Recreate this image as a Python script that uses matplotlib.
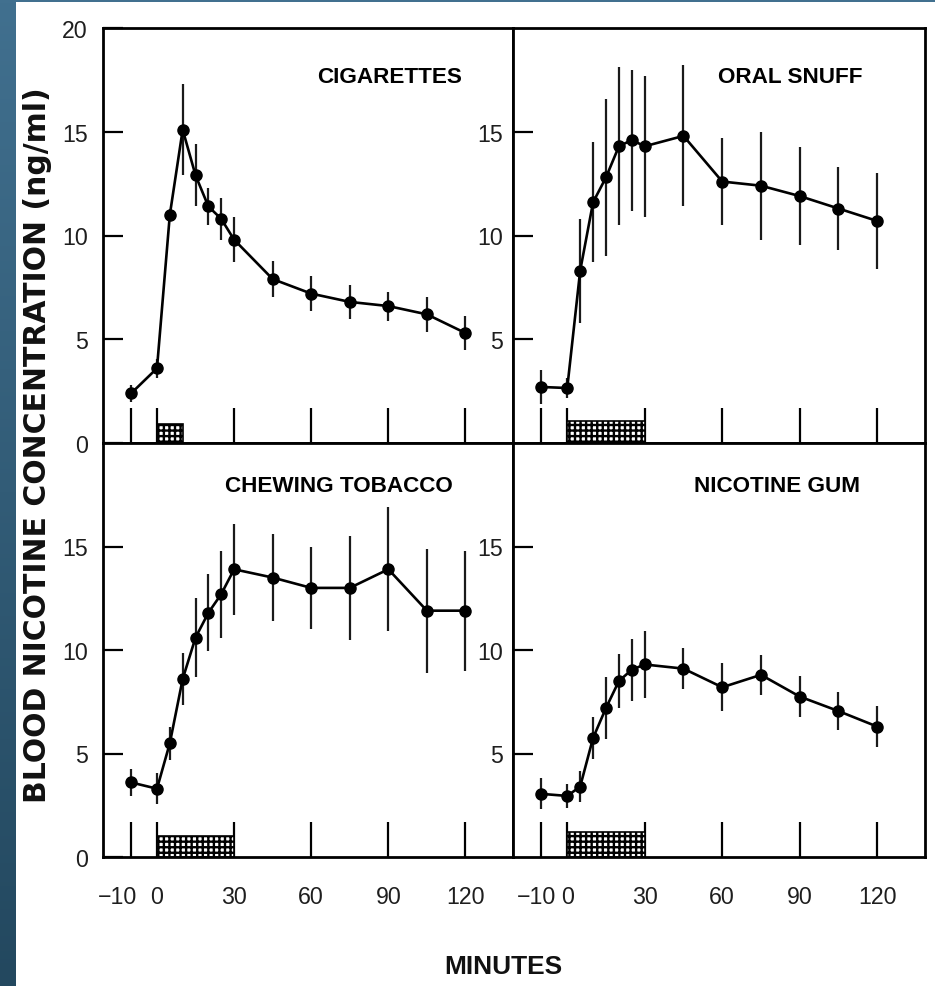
import matplotlib
matplotlib.use('Agg')
import matplotlib.pyplot as plt
from matplotlib import font_manager
import matplotlib.transforms as mtransforms
from matplotlib.colors import LinearSegmentedColormap
from matplotlib.patches import Rectangle
import numpy as np

# ---------------- data ----------------
times = [-10, 0, 5, 10, 15, 20, 25, 30, 45, 60, 75, 90, 105, 120]

cig_mean = [2.4, 3.6, 11.0, 15.1, 12.9, 11.4, 10.8, 9.8, 7.9, 7.2, 6.8, 6.6, 6.2, 5.3]
cig_err = [0.4, 0.45, 0.3, 2.2, 1.5, 0.9, 1.0, 1.1, 0.85, 0.85, 0.8, 0.7, 0.85, 0.8]

snuff_mean = [2.7, 2.65, 8.3, 11.6, 12.8, 14.3, 14.6, 14.3, 14.8, 12.6, 12.4, 11.9, 11.3, 10.7]
snuff_err = [0.8, 0.5, 2.5, 2.9, 3.8, 3.8, 3.4, 3.4, 3.4, 2.1, 2.6, 2.35, 2.0, 2.3]

chew_mean = [3.6, 3.3, 5.5, 8.6, 10.6, 11.8, 12.7, 13.9, 13.5, 13.0, 13.0, 13.9, 11.9, 11.9]
chew_err = [0.65, 0.75, 0.8, 1.25, 1.9, 1.85, 2.1, 2.2, 2.1, 2.0, 2.5, 3.0, 3.0, 2.9]

gum_mean = [3.05, 2.95, 3.4, 5.75, 7.2, 8.5, 9.05, 9.3, 9.1, 8.2, 8.8, 7.75, 7.05, 6.3]
gum_err = [0.75, 0.6, 0.75, 1.0, 1.5, 1.3, 1.5, 1.6, 1.0, 1.15, 0.95, 1.0, 0.9, 1.0]

titles = ["CIGARETTES", "ORAL SNUFF", "CHEWING TOBACCO", "NICOTINE GUM"]
exposure_end = [10, 30, 30, 30]
exposure_height = [0.9, 1.05, 1.0, 1.2]

x_ticks = [-10, 0, 30, 60, 90, 120]
x_tick_labels = ["\u221210", "0", "30", "60", "90", "120"]

ylabel = "BLOOD NICOTINE CONCENTRATION (ng/ml)"
xlabel = "MINUTES"

# ---------------- fonts ----------------
names = {f.name for f in font_manager.fontManager.ttflist}
NARROW = 'Liberation Sans Narrow' in names
if NARROW:
    cond = ['Liberation Sans Narrow', 'Liberation Sans', 'DejaVu Sans']
    k = 1.0
else:
    cond = ['Liberation Sans', 'DejaVu Sans']
    k = 0.9

# ---------------- figure ----------------
W, H = 935, 987
fig = plt.figure(figsize=(W / 100, H / 100), dpi=100)
fig.patch.set_facecolor('white')

# blue frame strips (decoration of the slide)
band = fig.add_axes([0, 0, 15 / W, 1])
band.imshow(np.linspace(0, 1, 256).reshape(-1, 1), aspect='auto',
            cmap=LinearSegmentedColormap.from_list('b', ['#41708f', '#23485f']))
band.axis('off')
fig.patches.append(Rectangle((0, 1 - 3 / H), 1, 3 / H, transform=fig.transFigure,
                             facecolor='#41708f', edgecolor='none'))

L, MID, R = 103 / W, 513 / W, 925 / W
TOP, MIDY, BOT = 1 - 29 / H, 1 - 444 / H, 1 - 858 / H

positions = [
    [L, MIDY, MID - L, TOP - MIDY],
    [MID, MIDY, R - MID, TOP - MIDY],
    [L, BOT, MID - L, MIDY - BOT],
    [MID, BOT, R - MID, MIDY - BOT],
]
means = [cig_mean, snuff_mean, chew_mean, gum_mean]
errs = [cig_err, snuff_err, chew_err, gum_err]
title_pos = [(90.4, 17.65), (86.5, 17.65), (70.6, 17.95), (81.2, 17.95)]
plt.rcParams['hatch.linewidth'] = 1.7

TICK_SIZE = 18.5 * k
TITLE_SIZE = 18 * k

for i, pos in enumerate(positions):
    ax = fig.add_axes(pos)
    ax.set_xlim(-21, 138.5)
    ax.set_ylim(0, 20)
    for s in ax.spines.values():
        s.set_linewidth(2.0)
        s.set_color('black')

    ax.bar(0, exposure_height[i], width=exposure_end[i], align='edge',
           facecolor='white', edgecolor='black', hatch='+++', linewidth=1.2, zorder=2)

    ax.errorbar(times, means[i], yerr=errs[i], fmt='-o', color='black',
                ms=8, lw=1.9, elinewidth=1.6, ecolor='#1a1a1a', capsize=0, zorder=3)

    ax.text(title_pos[i][0], title_pos[i][1], titles[i], ha='center', va='center',
            fontsize=TITLE_SIZE, fontweight='bold', family=cond, color='black')

    # x ticks
    ax.set_xticks(x_ticks)
    ax.tick_params(axis='x', direction='in', length=25, width=1.6, pad=20,
                   top=False, bottom=True)
    if i >= 2:
        ax.set_xticklabels(x_tick_labels)
        for lab in ax.get_xticklabels():
            lab.set_fontproperties(font_manager.FontProperties(family=cond, size=TICK_SIZE))
            lab.set_color('#1e1e1e')
        shift = -14 if i == 2 else -5
        lab0 = ax.get_xticklabels()[0]
        lab0.set_transform(lab0.get_transform() +
                           mtransforms.ScaledTranslation(shift / 100, 0, fig.dpi_scale_trans))
    else:
        ax.set_xticklabels([])

    # y ticks
    if i == 0:
        yt = [0, 5, 10, 15, 20]
    elif i == 2:
        yt = [0, 5, 10, 15]
    else:
        yt = [5, 10, 15]
    ax.set_yticks(yt)
    ax.set_yticklabels([str(v) for v in yt])
    for lab in ax.get_yticklabels():
        lab.set_fontproperties(font_manager.FontProperties(family=cond, size=TICK_SIZE))
        lab.set_color('#1e1e1e')
    ax.tick_params(axis='y', direction='in', length=14.5, width=1.6,
                   pad=11 if i in (0, 2) else 7, left=True, right=False)

fig.text(38 / W, 1 - 445 / H, ylabel, rotation=90, ha='center', va='center',
         fontsize=21.5, fontweight='bold', family=['DejaVu Sans'], color='#111111')
fig.text(503 / W, 1 - 967 / H, xlabel, ha='center', va='center',
         fontsize=21 * k, fontweight='bold', family=cond, color='#111111')

fig.savefig('out.png', dpi=100, facecolor='white')
